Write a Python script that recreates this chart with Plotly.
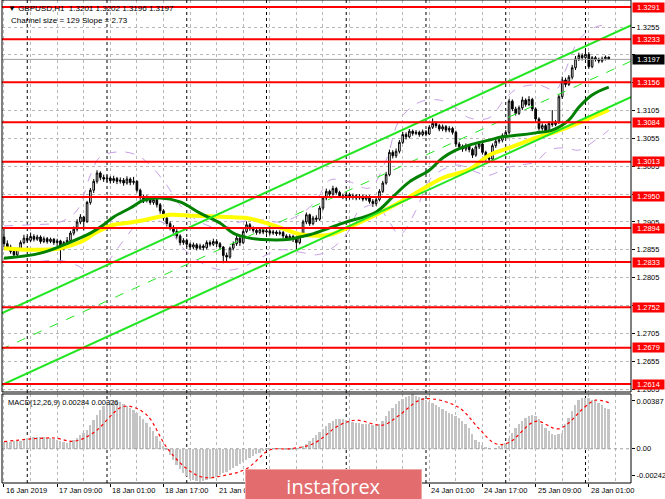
import numpy as np
import plotly.graph_objects as go

# GBPUSD H1, 16 Jan 17:00 .. 28 Jan 07:00 2019
opens = [
    1.2878, 1.2866, 1.2860, 1.2852, 1.2846, 1.2856, 1.2868, 1.2876, 1.2872, 1.2879,
    1.2874, 1.2878, 1.2870, 1.2875, 1.2870, 1.2874, 1.2868, 1.2871, 1.2858, 1.2868,
    1.2872, 1.2885, 1.2892, 1.2905, 1.2914, 1.2906, 1.2940, 1.2962, 1.2978, 1.2993,
    1.2985, 1.2982, 1.2984, 1.2979, 1.2983, 1.2978, 1.2980, 1.2975, 1.2982, 1.2976,
    1.2978, 1.2962, 1.2950, 1.2944, 1.2948, 1.2940, 1.2945, 1.2936, 1.2925, 1.2912,
    1.2902, 1.2895, 1.2888, 1.2880, 1.2868, 1.2872, 1.2865, 1.2860, 1.2864, 1.2858,
    1.2862, 1.2859, 1.2868, 1.2865, 1.2870, 1.2866, 1.2860, 1.2845, 1.2842, 1.2858,
    1.2866, 1.2876, 1.2868, 1.2888, 1.2900, 1.2893, 1.2890, 1.2886, 1.2891, 1.2887,
    1.2889, 1.2885, 1.2887, 1.2884, 1.2886, 1.2880, 1.2876, 1.2879, 1.2874, 1.2868,
    1.2880, 1.2905, 1.2918, 1.2902, 1.2912, 1.2910, 1.2930, 1.2948, 1.2960, 1.2955,
    1.2965, 1.2958, 1.2952, 1.2950, 1.2954, 1.2949, 1.2952, 1.2948, 1.2951, 1.2946,
    1.2950, 1.2942, 1.2938, 1.2945, 1.2960, 1.2975, 1.2990, 1.3030, 1.3024, 1.3032,
    1.3048, 1.3062, 1.3058, 1.3068, 1.3064, 1.3066, 1.3062, 1.3067, 1.3063, 1.3075,
    1.3082, 1.3078, 1.3072, 1.3076, 1.3070, 1.3073, 1.3066, 1.3045, 1.3040, 1.3036,
    1.3042, 1.3035, 1.3025, 1.3040, 1.3045, 1.3030, 1.3020, 1.3018, 1.3042, 1.3050,
    1.3052, 1.3060, 1.3066, 1.3122, 1.3108, 1.3100, 1.3110, 1.3124, 1.3116, 1.3125,
    1.3108, 1.3090, 1.3073, 1.3078, 1.3066, 1.3082, 1.3080, 1.3084, 1.3130, 1.3160,
    1.3152, 1.3165, 1.3182, 1.3198, 1.3204, 1.3200, 1.3206, 1.3184, 1.3200, 1.3197,
    1.3194, 1.3198, 1.3201,
]
highs = [
    1.2894, 1.2872, 1.2864, 1.2858, 1.2859, 1.2872, 1.2882, 1.2880, 1.2886, 1.2883,
    1.2882, 1.2881, 1.2879, 1.2878, 1.2877, 1.2876, 1.2875, 1.2873, 1.2871, 1.2878,
    1.2889, 1.2897, 1.2910, 1.2919, 1.2916, 1.2943, 1.2966, 1.2982, 1.2998, 1.2996,
    1.2990, 1.2989, 1.2987, 1.2988, 1.2986, 1.2985, 1.2984, 1.2987, 1.2985, 1.2986,
    1.2980, 1.2965, 1.2954, 1.2953, 1.2951, 1.2950, 1.2948, 1.2939, 1.2928, 1.2916,
    1.2906, 1.2899, 1.2892, 1.2883, 1.2876, 1.2875, 1.2868, 1.2868, 1.2867, 1.2866,
    1.2865, 1.2872, 1.2872, 1.2875, 1.2874, 1.2869, 1.2862, 1.2850, 1.2861, 1.2870,
    1.2880, 1.2879, 1.2892, 1.2906, 1.2903, 1.2897, 1.2894, 1.2895, 1.2894, 1.2893,
    1.2892, 1.2891, 1.2890, 1.2890, 1.2889, 1.2883, 1.2883, 1.2882, 1.2877, 1.2884,
    1.2909, 1.2922, 1.2920, 1.2916, 1.2917, 1.2934, 1.2952, 1.2965, 1.2963, 1.2970,
    1.2968, 1.2961, 1.2956, 1.2958, 1.2957, 1.2956, 1.2955, 1.2955, 1.2954, 1.2954,
    1.2953, 1.2946, 1.2949, 1.2964, 1.2979, 1.2995, 1.3035, 1.3034, 1.3037, 1.3052,
    1.3067, 1.3066, 1.3072, 1.3071, 1.3070, 1.3069, 1.3071, 1.3070, 1.3079, 1.3091,
    1.3086, 1.3081, 1.3080, 1.3079, 1.3077, 1.3076, 1.3069, 1.3049, 1.3044, 1.3046,
    1.3045, 1.3038, 1.3044, 1.3050, 1.3048, 1.3033, 1.3024, 1.3046, 1.3054, 1.3056,
    1.3064, 1.3070, 1.3126, 1.3125, 1.3112, 1.3114, 1.3130, 1.3127, 1.3131, 1.3128,
    1.3111, 1.3093, 1.3082, 1.3081, 1.3086, 1.3106, 1.3088, 1.3134, 1.3166, 1.3164,
    1.3169, 1.3187, 1.3203, 1.3209, 1.3208, 1.3216, 1.3210, 1.3203, 1.3203, 1.3200,
    1.3202, 1.3204, 1.3202,
]
lows = [
    1.2860, 1.2855, 1.2848, 1.2841, 1.2842, 1.2853, 1.2865, 1.2868, 1.2869, 1.2870,
    1.2871, 1.2866, 1.2867, 1.2866, 1.2867, 1.2864, 1.2862, 1.2831, 1.2854, 1.2865,
    1.2869, 1.2881, 1.2888, 1.2901, 1.2890, 1.2903, 1.2936, 1.2957, 1.2974, 1.2980,
    1.2977, 1.2976, 1.2974, 1.2975, 1.2973, 1.2974, 1.2970, 1.2972, 1.2971, 1.2972,
    1.2958, 1.2945, 1.2939, 1.2940, 1.2936, 1.2936, 1.2931, 1.2920, 1.2907, 1.2897,
    1.2890, 1.2883, 1.2875, 1.2863, 1.2864, 1.2860, 1.2855, 1.2856, 1.2854, 1.2855,
    1.2854, 1.2856, 1.2861, 1.2862, 1.2860, 1.2855, 1.2831, 1.2834, 1.2839, 1.2854,
    1.2862, 1.2862, 1.2865, 1.2885, 1.2889, 1.2886, 1.2882, 1.2883, 1.2883, 1.2884,
    1.2881, 1.2882, 1.2880, 1.2881, 1.2876, 1.2872, 1.2873, 1.2869, 1.2855, 1.2865,
    1.2877, 1.2901, 1.2898, 1.2899, 1.2905, 1.2907, 1.2926, 1.2944, 1.2950, 1.2952,
    1.2954, 1.2948, 1.2946, 1.2946, 1.2945, 1.2945, 1.2944, 1.2945, 1.2942, 1.2943,
    1.2938, 1.2932, 1.2934, 1.2942, 1.2957, 1.2972, 1.2987, 1.3019, 1.3020, 1.3028,
    1.3045, 1.3053, 1.3055, 1.3060, 1.3061, 1.3058, 1.3059, 1.3059, 1.3061, 1.3072,
    1.3074, 1.3068, 1.3068, 1.3066, 1.3066, 1.3062, 1.3040, 1.3035, 1.3031, 1.3032,
    1.3030, 1.3020, 1.3022, 1.3036, 1.3026, 1.3015, 1.3011, 1.3015, 1.3038, 1.3046,
    1.3048, 1.3056, 1.3063, 1.3104, 1.3096, 1.3097, 1.3106, 1.3112, 1.3113, 1.3104,
    1.3085, 1.3069, 1.3069, 1.3061, 1.3063, 1.3076, 1.3077, 1.3081, 1.3126, 1.3147,
    1.3149, 1.3161, 1.3178, 1.3194, 1.3195, 1.3196, 1.3180, 1.3181, 1.3193, 1.3190,
    1.3191, 1.3195, 1.3196,
]
closes = [
    1.2866, 1.2860, 1.2852, 1.2846, 1.2856, 1.2868, 1.2876, 1.2872, 1.2879, 1.2874,
    1.2878, 1.2870, 1.2875, 1.2870, 1.2874, 1.2868, 1.2871, 1.2858, 1.2868, 1.2872,
    1.2885, 1.2892, 1.2905, 1.2914, 1.2906, 1.2940, 1.2962, 1.2978, 1.2993, 1.2985,
    1.2982, 1.2984, 1.2979, 1.2983, 1.2978, 1.2980, 1.2975, 1.2982, 1.2976, 1.2978,
    1.2962, 1.2950, 1.2944, 1.2948, 1.2940, 1.2945, 1.2936, 1.2925, 1.2912, 1.2902,
    1.2895, 1.2888, 1.2880, 1.2868, 1.2872, 1.2865, 1.2860, 1.2864, 1.2858, 1.2862,
    1.2859, 1.2868, 1.2865, 1.2870, 1.2866, 1.2860, 1.2845, 1.2842, 1.2858, 1.2866,
    1.2876, 1.2868, 1.2888, 1.2900, 1.2893, 1.2890, 1.2886, 1.2891, 1.2887, 1.2889,
    1.2885, 1.2887, 1.2884, 1.2886, 1.2880, 1.2876, 1.2879, 1.2874, 1.2868, 1.2880,
    1.2905, 1.2918, 1.2902, 1.2912, 1.2910, 1.2930, 1.2948, 1.2960, 1.2955, 1.2965,
    1.2958, 1.2952, 1.2950, 1.2954, 1.2949, 1.2952, 1.2948, 1.2951, 1.2946, 1.2950,
    1.2942, 1.2938, 1.2945, 1.2960, 1.2975, 1.2990, 1.3030, 1.3024, 1.3032, 1.3048,
    1.3062, 1.3058, 1.3068, 1.3064, 1.3066, 1.3062, 1.3067, 1.3063, 1.3075, 1.3082,
    1.3078, 1.3072, 1.3076, 1.3070, 1.3073, 1.3066, 1.3045, 1.3040, 1.3036, 1.3042,
    1.3035, 1.3025, 1.3040, 1.3045, 1.3030, 1.3020, 1.3018, 1.3042, 1.3050, 1.3052,
    1.3060, 1.3066, 1.3122, 1.3108, 1.3100, 1.3110, 1.3124, 1.3116, 1.3125, 1.3108,
    1.3090, 1.3073, 1.3078, 1.3066, 1.3082, 1.3080, 1.3084, 1.3130, 1.3160, 1.3152,
    1.3165, 1.3182, 1.3198, 1.3204, 1.3200, 1.3206, 1.3184, 1.3200, 1.3197, 1.3194,
    1.3198, 1.3201, 1.3197,
]
bars = list(range(len(closes)))

# MACD(12,26,9) histogram, in points (1e-5)
macd_points = [
    48, 50, 51, 53, 55, 57, 66, 75, 79, 84,
    86, 84, 81, 77, 75, 70, 62, 53, 46, 42,
    48, 62, 79, 97, 110, 132, 167, 202, 238, 273,
    299, 321, 334, 339, 336, 330, 317, 304, 290, 277,
    255, 233, 207, 180, 154, 123, 88, 53, 22, -9,
    -44, -79, -114, -145, -172, -194, -211, -224, -231, -233,
    -231, -224, -216, -207, -198, -187, -174, -161, -148, -134,
    -121, -107, -93, -79, -66, -53, -40, -28, -18, -9,
    -3, 2, 4, 4, 0, -4, -7, -5, -2, 5,
    18, 35, 53, 75, 97, 119, 141, 163, 180, 194,
    211, 213, 209, 204, 198, 189, 185, 180, 176, 174,
    172, 167, 165, 176, 198, 229, 264, 290, 317, 339,
    352, 365, 374, 387, 374, 368, 359, 348, 334, 321,
    308, 295, 282, 268, 255, 246, 233, 216, 198, 176,
    150, 106, 62, 48, 26, 13, 4, 0, 4, 18,
    31, 40, 79, 114, 145, 176, 198, 216, 229, 236,
    231, 211, 172, 145, 123, 106, 99, 101, 110, 176,
    220, 264, 308, 343, 356, 361, 356, 348, 339, 326,
    308, 286, 284,
]
signal_bars = [0, 15, 21, 27, 35, 38, 43, 49, 55, 60, 67, 73, 80, 86, 93,
               101, 106, 114, 119, 125, 129, 137, 143, 148, 152, 160, 167, 175, 178, 182]
signal_points = [50, 76, 53, 114, 290, 299, 238, 9, -141, -202, -185, -141, -9, 0, 35,
                 167, 202, 167, 238, 343, 352, 290, 141, 35, 44, 194, 141, 299, 343, 326]

# moving averages (dark green fast, yellow slow)
ma_fast_bars = [0, 11, 20, 26, 30, 33, 38, 42, 47, 53, 59, 65, 69, 74, 80, 86, 89, 92,
                102, 112, 117, 122, 128, 132, 136, 140, 146, 150, 155, 160, 165, 170, 173, 177, 182]
ma_fast = [1.2840, 1.2849, 1.2869, 1.2885, 1.2900, 1.2914, 1.2930, 1.2944, 1.2948, 1.2941,
           1.2921, 1.2903, 1.2885, 1.2876, 1.2873, 1.2874, 1.2878, 1.2882, 1.2903, 1.2923,
           1.2950, 1.2977, 1.2998, 1.3020, 1.3034, 1.3043, 1.3052, 1.3058, 1.3061, 1.3065,
           1.3070, 1.3088, 1.3111, 1.3133, 1.3147]
ma_slow_bars = [0, 9, 17, 23, 28, 33, 39, 45, 50, 57, 67, 73, 79, 85, 90, 98, 102,
                112, 122, 132, 140, 146, 152, 160, 166, 173, 182]
ma_slow = [1.2858, 1.2855, 1.2858, 1.2869, 1.2887, 1.2900, 1.2905, 1.2912, 1.2918, 1.2916,
           1.2914, 1.2912, 1.2903, 1.2891, 1.2882, 1.2882, 1.2891, 1.2918, 1.2950, 1.2984,
           1.2999, 1.3025, 1.3038, 1.3056, 1.3067, 1.3083, 1.3106]

# envelope bands (purple dashed)
upper_bars = [0, 8, 17, 22, 26, 29, 35, 40, 44, 49, 53, 59, 65, 71, 77, 83, 89, 94, 98,
              104, 110, 115, 119, 125, 131, 136, 140, 146, 151, 155, 161, 166, 169, 173, 178, 182]
band_upper = [1.2898, 1.2900, 1.2905, 1.2926, 1.2989, 1.3022, 1.3031, 1.3025, 1.3007, 1.2971,
              1.2935, 1.2905, 1.2894, 1.2905, 1.2909, 1.2905, 1.2918, 1.2944, 1.2980, 1.2977,
              1.2966, 1.3016, 1.3088, 1.3120, 1.3124, 1.3110, 1.3092, 1.3092, 1.3128, 1.3146,
              1.3151, 1.3142, 1.3178, 1.3232, 1.3255, 1.3259]
lower_bars = [0, 8, 17, 22, 26, 31, 35, 40, 44, 49, 53, 59, 65, 71, 77, 83, 89, 94, 98,
              103, 107, 112, 116, 119, 124, 128, 133, 137, 142, 146, 151, 155, 160, 164,
              169, 173, 178, 182]
band_lower = [1.2833, 1.2833, 1.2836, 1.2827, 1.2815, 1.2833, 1.2864, 1.2900, 1.2909, 1.2900,
              1.2864, 1.2833, 1.2819, 1.2822, 1.2840, 1.2855, 1.2851, 1.2846, 1.2855, 1.2882,
              1.2926, 1.2935, 1.2905, 1.2882, 1.2926, 1.2980, 1.3002, 1.3007, 1.2995, 1.2989,
              1.3002, 1.3007, 1.3013, 1.3034, 1.3038, 1.3034, 1.3052, 1.3070]

# regression channel, size 129, slope 2.73
channel_bars = [-1, 189]
channel_upper = [1.27403, 1.32590]
channel_mid = [1.26758, 1.31945]
channel_lower = [1.26113, 1.31300]

levels = [1.3291, 1.3233, 1.3156, 1.3084, 1.3013, 1.2950, 1.2894, 1.2833, 1.2752, 1.2679, 1.2614]
last_price = 1.3197

# price scale: every 50 pips, labels that sit under a level tag are not shown
price_ticks = [1.2605, 1.2655, 1.2705, 1.2755, 1.2805, 1.2855, 1.2905, 1.2955,
               1.3005, 1.3055, 1.3105, 1.3155, 1.3205, 1.3255]
price_tick_text = ["1.2605", "1.2655", "1.2705", "", "1.2805", "1.2855", "1.2905", "",
                   "1.3005", "1.3055", "1.3105", "", "", "1.3255"]

# time labels that are not covered by the watermark
time_label_bars = [0, 16, 32, 48, 64, 128, 144, 160, 176]
time_labels = ["16 Jan 2019", "17 Jan 09:00", "18 Jan 01:00", "18 Jan 17:00", "21 Jan 09:00",
               "24 Jan 01:00", "24 Jan 17:00", "25 Jan 09:00", "28 Jan 01:00"]
day_start_bars = [7, 31, 55, 79, 103, 127, 151, 175]

macd_hist = np.array(macd_points) * 1e-5
signal = np.array(signal_points) * 1e-5

FONT = "Liberation Sans, Arial, sans-serif"
GRID = "#b8b8b8"
MAIN_DOM = [0.1884, 1.0]
MACD_DOM = [0.0, 0.1843]

fig = go.Figure()

fig.add_trace(go.Scatter(x=upper_bars, y=band_upper, mode="lines", line_shape="spline",
                         line=dict(color="#c79fe6", width=1, dash="dash"), xaxis="x", yaxis="y"))
fig.add_trace(go.Scatter(x=lower_bars, y=band_lower, mode="lines", line_shape="spline",
                         line=dict(color="#c79fe6", width=1, dash="dash"), xaxis="x", yaxis="y"))

fig.add_trace(go.Candlestick(
    x=bars, open=opens, high=highs, low=lows, close=closes,
    increasing=dict(line=dict(color="black", width=1), fillcolor="white"),
    decreasing=dict(line=dict(color="black", width=1), fillcolor="black"),
    whiskerwidth=0, xaxis="x", yaxis="y"))

fig.add_trace(go.Scatter(x=ma_slow_bars, y=ma_slow, mode="lines", line_shape="spline",
                         line=dict(color="#ffff00", width=4), xaxis="x", yaxis="y"))
fig.add_trace(go.Scatter(x=ma_fast_bars, y=ma_fast, mode="lines", line_shape="spline",
                         line=dict(color="#008000", width=3), xaxis="x", yaxis="y"))

for vals, dash, w in [(channel_upper, "solid", 2), (channel_lower, "solid", 2), (channel_mid, "dash", 1)]:
    fig.add_trace(go.Scatter(x=channel_bars, y=vals, mode="lines",
                             line=dict(color="#22e622", width=w, dash=dash), xaxis="x", yaxis="y"))

fig.add_trace(go.Bar(x=bars, y=macd_hist, marker_color="#c4c4c4", marker_line_width=0,
                     width=0.55, xaxis="x2", yaxis="y2"))
fig.add_trace(go.Scatter(x=signal_bars, y=signal, mode="lines", line_shape="spline",
                         line=dict(color="#ff0000", width=1.2, dash="dot"), xaxis="x2", yaxis="y2"))

shapes = []
for d in day_start_bars:
    shapes.append(dict(type="line", xref="x", yref="paper", x0=d, x1=d, y0=0, y1=1,
                       line=dict(color="black", width=1, dash="dot"), layer="below"))
for lv in levels:
    shapes.append(dict(type="line", xref="paper", yref="y", x0=0, x1=1, y0=lv, y1=lv,
                       line=dict(color="#ff0000", width=2)))
shapes.append(dict(type="line", xref="paper", yref="y", x0=0, x1=1, y0=last_price, y1=last_price,
                   line=dict(color="#a0a0a0", width=1)))
shapes.append(dict(type="line", xref="paper", yref="y2", x0=0, x1=1, y0=0, y1=0,
                   line=dict(color="#a0a0a0", width=1, dash="dot")))
shapes.append(dict(type="rect", xref="paper", yref="paper", x0=0, x1=1, y0=MAIN_DOM[0], y1=1,
                   line=dict(color="black", width=1)))
shapes.append(dict(type="rect", xref="paper", yref="paper", x0=0, x1=1, y0=MACD_DOM[0], y1=MACD_DOM[1],
                   line=dict(color="black", width=1)))

ann = []
for lv in levels:
    ann.append(dict(x=1, xref="paper", y=lv, yref="y", xanchor="left", yanchor="middle",
                    text=f"{lv:.4f}", showarrow=False, bgcolor="#ff0000", xshift=1,
                    width=31, height=9, borderpad=0, font=dict(color="white", size=7.5, family=FONT)))
ann.append(dict(x=1, xref="paper", y=last_price, yref="y", xanchor="left", yanchor="middle",
                text=f"{last_price:.4f}", showarrow=False, bgcolor="black", xshift=1,
                width=31, height=9, borderpad=0, font=dict(color="white", size=7.5, family=FONT)))

ann.append(dict(x=0, xref="paper", y=1, yref="paper", xanchor="left", yanchor="top", xshift=4, yshift=-2,
                text="\u25bc GBPUSD,H1  1.3201 1.3202 1.3196 1.3197", showarrow=False,
                font=dict(size=8, family=FONT, color="black")))
ann.append(dict(x=0, xref="paper", y=1, yref="paper", xanchor="left", yanchor="top", xshift=7, yshift=-14,
                text="Channel size = 129 Slope = 2.73", showarrow=False,
                font=dict(size=8, family=FONT, color="black")))
ann.append(dict(x=0, xref="paper", y=MACD_DOM[1], yref="paper", xanchor="left", yanchor="top", xshift=4, yshift=-2,
                text="MACD(12,26,9) 0.00284 0.00326", showarrow=False,
                font=dict(size=7.5, family=FONT, color="black")))

for b, t in zip(time_label_bars, time_labels):
    ann.append(dict(x=b, xref="x", y=0, yref="paper", xanchor="left", yanchor="top", yshift=-1,
                    text=t, showarrow=False, font=dict(size=7.5, family=FONT, color="black")))

# instaforex watermark
ann.append(dict(x=0.527, xref="paper", y=-0.006, yref="paper", xanchor="center", yanchor="middle",
                text="instaforex", showarrow=False, bgcolor="#e36c6e", bordercolor="#f0a5a5",
                borderwidth=1, width=175, height=32, borderpad=0,
                font=dict(size=20, family="Open Sans, sans-serif", color="white")))

xcommon = dict(range=[-0.6, 188.7], tick0=0, dtick=16, showgrid=True, gridcolor=GRID,
               griddash="dot", zeroline=False, showline=False,
               minor=dict(tick0=0, dtick=8, showgrid=True, gridcolor=GRID, griddash="dot"))

fig.update_layout(
    width=665, height=499,
    margin=dict(l=2, r=34, t=0, b=16),
    paper_bgcolor="white", plot_bgcolor="white",
    showlegend=False, bargap=0,
    font=dict(family=FONT, size=8, color="black"),
    xaxis=dict(domain=[0, 1], anchor="y", showticklabels=False, ticks="",
               rangeslider=dict(visible=False), **xcommon),
    xaxis2=dict(domain=[0, 1], anchor="y2", matches="x", showticklabels=False,
                ticks="outside", ticklen=3, tickcolor="black", **xcommon),
    yaxis=dict(domain=MAIN_DOM, range=[1.25997, 1.33036], side="right",
               tickvals=price_ticks, ticktext=price_tick_text,
               showgrid=True, gridcolor=GRID, griddash="dot", zeroline=False,
               ticks="outside", ticklen=3, tickcolor="black",
               tickfont=dict(size=7.5, family=FONT)),
    yaxis2=dict(domain=MACD_DOM, range=[-0.00242, 0.00387], side="right",
                tickvals=[0.00338, 0, -0.00186], ticktext=["0.00387", "0.00", "-0.00242"],
                showgrid=False, zeroline=False, ticks="outside", ticklen=3, tickcolor="black",
                tickfont=dict(size=7.5, family=FONT)),
    shapes=shapes,
    annotations=ann,
)

# the page's default body margin would push the 665x499 figure off the window
fig.write_html("out.html", config={"displayModeBar": False},
               post_script="document.body.style.margin='0';document.body.style.overflow='hidden';")
